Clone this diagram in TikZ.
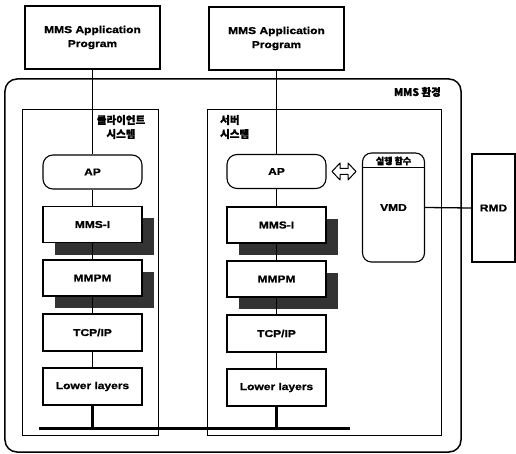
\documentclass[tikz,border=0pt]{standalone}
\usepackage{fontspec}
\usetikzlibrary{shadows}
\newfontfamily\lab[FakeStretch=1.2,FakeBold=1.2]{Liberation Sans}
\newfontfamily\kr[FakeBold=1.5]{Noto Sans CJK KR}
\begin{document}
\begin{tikzpicture}[x=1bp,y=-1bp,
  every node/.style={font=\lab\bfseries\fontsize{10bp}{12bp}\selectfont, inner sep=0pt},
  appbox/.style={draw, line width=1.5bp, minimum width=135bp, minimum height=63bp, align=center},
  sysbox/.style={draw, line width=1bp},
  layer/.style={draw, fill=white, line width=1.1bp, minimum width=99bp, minimum height=36bp},
  shad/.style={layer, drop shadow={shadow xshift=12bp, shadow yshift=-12bp, fill=black!80, opacity=1}},
  apbox/.style={draw, fill=white, line width=1.1bp, rounded corners=10bp, minimum width=99bp, minimum height=34bp},
  conn/.style={line width=1.3bp},
  thick conn/.style={line width=2.8bp},
  krlab/.style={font=\kr\bfseries\fontsize{10.5bp}{14bp}\selectfont}
]
\useasboundingbox (0,0) rectangle (516,454);

% application programs
\node[appbox] (app1) at (92.5,37.5) {MMS Application\\[2bp]Program};
\node[appbox] (app2) at (276.5,38.5) {MMS Application\\[2bp]Program};

% MMS environment
\node[draw, line width=1.5bp, rounded corners=12bp, minimum width=456bp, minimum height=373bp] (env) at (233,265.5) {};
\node[krlab, anchor=east] (envlab) at (441,92) {MMS 환경};

% systems
\node[sysbox, minimum width=135bp, minimum height=326bp] (sys1) at (90.5,272.5) {};
\node[sysbox, minimum width=234bp, minimum height=326bp] (sys2) at (324,272.5) {};
\node[krlab, align=center] (sys1lab) at (121,127) {클라이언트\\시스템};
\node[krlab, align=left, anchor=west] (sys2lab) at (220,127) {서버\\시스템};

% client stack
\node[apbox] (ap1) at (92.5,172) {AP};
\node[shad] (mmsi1) at (92.5,224.5) {MMS-I};
\node[shad] (mmpm1) at (92.5,278) {MMPM};
\node[layer, minimum height=37bp] (tcp1) at (92.5,332.5) {TCP/IP};
\node[layer, minimum height=37bp] (low1) at (92.5,386.5) {Lower layers};

% server stack
\node[apbox] (ap2) at (276.5,171.5) {AP};
\node[shad] (mmsi2) at (276.5,225) {MMS-I};
\node[shad] (mmpm2) at (276.5,279) {MMPM};
\node[layer, minimum height=37bp] (tcp2) at (276.5,333.5) {TCP/IP};
\node[layer, minimum height=37bp] (low2) at (276.5,387.5) {Lower layers};

% bus
\coordinate (busL) at (39,428);
\coordinate (busR) at (350,428);
\draw[line width=3bp] (busL) -- (busR);

% connectors client
\draw[conn] (app1) -- (ap1);
\draw[conn] (ap1) -- (mmsi1);
\draw[conn] (mmsi1) -- (mmpm1);
\draw[conn] (mmpm1) -- (tcp1);
\draw[conn] (tcp1) -- (low1);
\draw[thick conn] (low1.south) -- (low1.south |- busL);

% connectors server
\draw[conn] (app2) -- (ap2);
\draw[conn] (ap2) -- (mmsi2);
\draw[conn] (mmsi2) -- (mmpm2);
\draw[conn] (mmpm2) -- (tcp2);
\draw[conn] (tcp2) -- (low2);
\draw[thick conn] (low2.south) -- (low2.south |- busR);

% VMD
\node[draw, fill=white, line width=1.1bp, rounded corners=9bp, minimum width=62bp, minimum height=109bp] (vmd) at (393.5,207.5) {VMD};
\draw[line width=1.1bp] ([yshift=-15bp]vmd.north west) -- ([yshift=-15bp]vmd.north east);
\node[krlab, font=\kr\bfseries\fontsize{9bp}{10bp}\selectfont] (vmdh) at (393.5,161) {실행 함수};

% double arrow (outline)
\coordinate (dbl) at (344,171.5);
\draw[line width=1bp, line join=round] ([shift={(-12,0)}]dbl) -- ([shift={(-4,-8.5)}]dbl) -- ([shift={(-4,-3)}]dbl)
  -- ([shift={(4,-3)}]dbl) -- ([shift={(4,-8.5)}]dbl) -- ([shift={(12,0)}]dbl) -- ([shift={(4,8.5)}]dbl)
  -- ([shift={(4,3)}]dbl) -- ([shift={(-4,3)}]dbl) -- ([shift={(-4,8.5)}]dbl) -- cycle;

% RMD
\node[draw, line width=1.5bp, minimum width=43bp, minimum height=108bp] (rmd) at (493.5,208) {RMD};
\draw[conn] (vmd.east) -- (rmd.west);
\end{tikzpicture}
\end{document}
